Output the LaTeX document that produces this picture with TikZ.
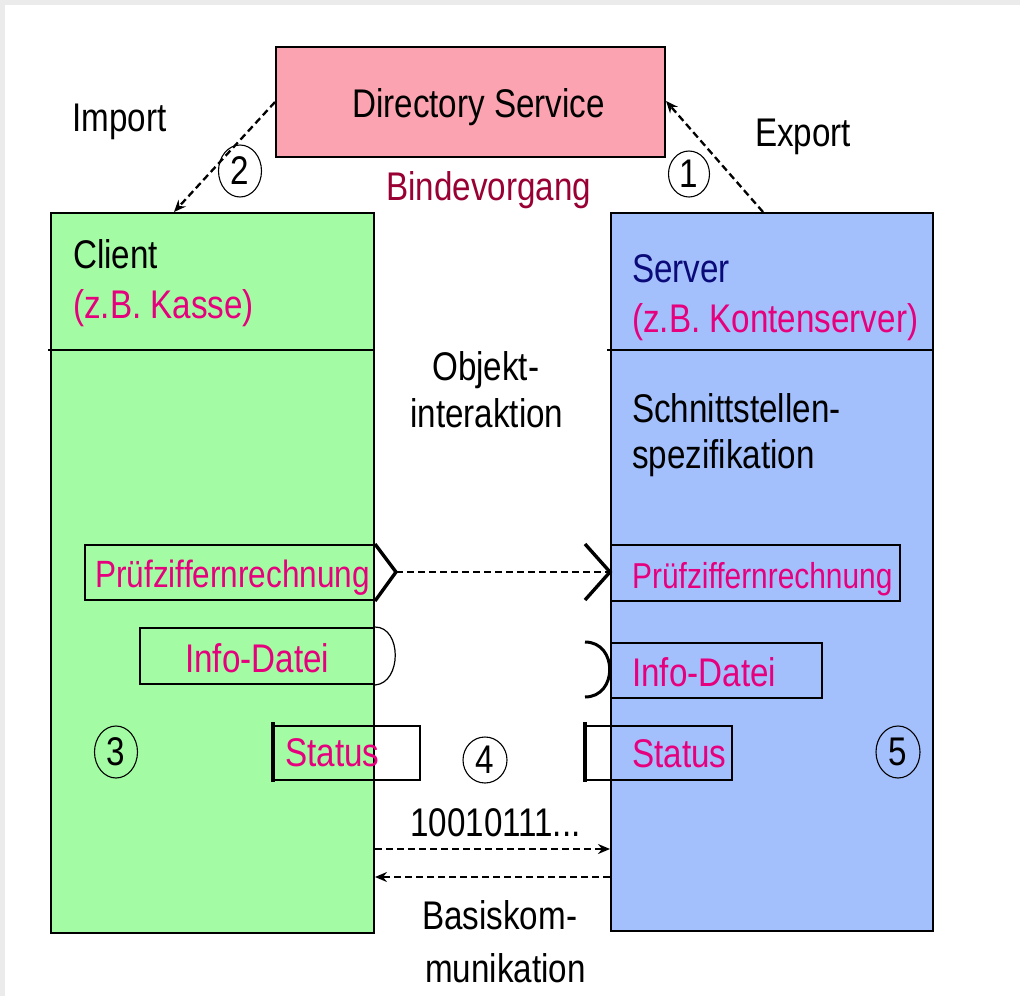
\documentclass[tikz,border=0pt]{standalone}
\usepackage{fontspec}
\setmainfont{Liberation Sans}[FakeStretch=0.83]
\usetikzlibrary{shapes.geometric,arrows.meta,calc}

\definecolor{dspink}{RGB}{251,163,176}
\definecolor{clgreen}{RGB}{163,252,163}
\definecolor{svblue}{RGB}{163,191,252}
\definecolor{magtext}{RGB}{230,0,126}
\definecolor{bindred}{RGB}{153,0,51}
\definecolor{navytext}{RGB}{10,10,120}
\definecolor{framegray}{RGB}{235,235,235}

\tikzset{
  box/.style={draw=black, line width=2pt, inner sep=0pt, anchor=north west},
  lbl/.style={anchor=base west, inner sep=0pt, font=\fontsize{40}{46}\selectfont},
  ilbl/.style={lbl, text=magtext, font=\fontsize{40}{46}\selectfont},
  ibox/.style={draw=black, line width=2pt, inner sep=0pt, anchor=north west},
  num/.style={ellipse, draw=black, line width=1.1pt, inner sep=0pt, font=\fontsize{40}{44}\selectfont},
  dashline/.style={dashed, dash pattern=on 7pt off 4pt, line width=2.3pt},
  dasharrow/.style={dashline, -{Stealth[length=12pt,width=10pt,inset=4pt]}},
  chevron/.style={line width=3.4pt, line join=miter},
  bar/.style={line width=4.8pt}
}

\begin{document}
\begin{tikzpicture}[x=1pt, y=-1pt]
\useasboundingbox (0,0) rectangle (1020,996);
% page frame
\fill[framegray] (0,0) rectangle (1020,996);
\fill[white] (5,5) rectangle (1020,996);

% directory service
\node[box, fill=dspink, minimum width=389pt, minimum height=110pt] (ds) at (275,46) {};
\node[lbl] (dslabel) at (352,117) {Directory Service};
\node[lbl, text=bindred] (bind) at (386,200) {Bindevorgang};
\node[lbl] (import) at (72,131) {Import};
\node[lbl] (export) at (755,146) {Export};

% client and server
\node[box, fill=clgreen, minimum width=323pt, minimum height=720pt] (client) at (50,212) {};
\node[box, fill=svblue, minimum width=322pt, minimum height=718pt] (server) at (610,212) {};
\draw[line width=2pt] (48,350) -- (373,350);
\draw[line width=2pt] (607,350) -- (932,350);

\node[lbl] (cname) at (73,268) {Client};
\node[lbl, text=magtext] (cex) at (73,318) {(z.B. Kasse)};
\node[lbl, text=navytext] (sname) at (632,282) {Server};
\node[lbl, text=magtext] (sex) at (632,332) {(z.B. Kontenserver)};
\node[lbl] (spec1) at (632,422) {Schnittstellen-};
\node[lbl] (spec2) at (632,468) {spezifikation};
\node[lbl] (obj1) at (432,380) {Objekt-};
\node[lbl] (obj2) at (410,427) {interaktion};

% binding arrows
\coordinate (imptip) at ($(client.north west)+(124,0)$);
\coordinate (expstart) at ($(server.north west)+(153,0)$);
\draw[dasharrow] (ds.west) -- (imptip);
\draw[dasharrow] (expstart) -- ($(ds.east)+(0,-1)$);
\node[num, minimum width=43pt, minimum height=52pt] (n2) at (240,171) {2};
\node[num, minimum width=41pt, minimum height=46pt] (n1) at (689,174) {1};

% client interfaces
\node[ibox, minimum width=289pt, minimum height=55pt] (cpz) at (84,544) {};
\node[ilbl, font=\fontsize{38}{44}\selectfont] (cpzl) at (95,587) {Prüfziffernrechnung};
\node[ibox, minimum width=234pt, minimum height=56pt] (cinfo) at (139,627) {};
\node[ilbl] (cinfol) at (185,672) {Info-Datei};
\node[ibox, minimum width=146pt, minimum height=54pt] (cstat) at (273,725) {};
\node[ilbl] (cstatl) at (285,766) {Status};

% server interfaces
\node[ibox, minimum width=289pt, minimum height=56pt] (spz) at (610,544) {};
\node[ilbl, font=\fontsize{36}{42}\selectfont] (spzl) at (632,588) {Prüfziffernrechnung};
\node[ibox, minimum width=211pt, minimum height=55pt] (sinfo) at (610,642) {};
\node[ilbl] (sinfol) at (632,686) {Info-Datei};
\node[ibox, minimum width=146pt, minimum height=54pt] (sstat) at (585,725) {};
\node[ilbl] (sstatl) at (632,767) {Status};

% interface connectors
\coordinate (cchev) at (396,572);
\coordinate (schev) at (610,572);
\draw[chevron] (cpz.north east) -- (cchev) -- (cpz.south east);
\draw[chevron] (585,544) -- (schev) -- (585,600);
\draw[dashline] (cchev) -- (schev);
\draw[line width=1.2pt] (cinfo.north east) .. controls (402,627) and (402,683) .. (cinfo.south east);
\draw[line width=3pt] (585,642) .. controls (618,642) and (618,697) .. (585,697);
\draw[bar] (273,722) -- (273,782);
\draw[bar] (585,722) -- (585,782);

% numbered markers
\node[num, minimum width=43pt, minimum height=52pt] (n3) at (116,752) {3};
\node[num, minimum width=44pt, minimum height=46pt] (n4) at (485,760) {4};
\node[num, minimum width=44pt, minimum height=52pt] (n5) at (898,752) {5};

% base communication
\node[lbl] (bits) at (410,836) {10010111...};
\draw[dasharrow] (client.east |- 0,849) -- (server.west |- 0,849);
\draw[dasharrow] (server.west |- 0,877) -- (client.east |- 0,877);
\node[lbl] (basis1) at (422,929) {Basiskom-};
\node[lbl] (basis2) at (425,982) {munikation};
\end{tikzpicture}
\end{document}
